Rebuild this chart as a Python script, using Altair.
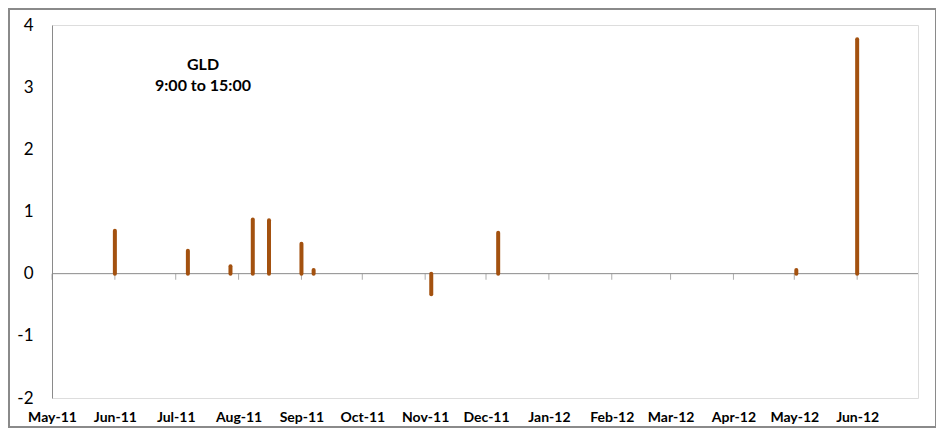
import altair as alt
import pandas as pd

# ---- data ----
dates = ["2011-06-01", "2011-07-07", "2011-07-28", "2011-08-08", "2011-08-16",
         "2011-09-01", "2011-09-07", "2011-11-04", "2011-12-07", "2012-05-02",
         "2012-06-01"]
values = [0.69, 0.37, 0.12, 0.87, 0.86, 0.48, 0.06, -0.33, 0.66, 0.06, 3.77]

month_ticks = ["2011-05-01", "2011-06-01", "2011-07-01", "2011-08-01", "2011-09-01",
               "2011-10-01", "2011-11-01", "2011-12-01", "2012-01-01", "2012-02-01",
               "2012-03-01", "2012-04-01", "2012-05-01", "2012-06-01"]
y_ticks = [-2, -1, 0, 1, 2, 3, 4]
title_lines = ["GLD", "9:00 to 15:00"]

FONT = "Lato"
BAR = "#A3510F"
GRAY = "#8A8A8A"

df = pd.DataFrame({"date": dates, "value": values, "base": [0] * len(values)})
df_months = pd.DataFrame({"date": month_ticks, "value": [0] * len(month_ticks)})
df_zero = pd.DataFrame({"value": [0]})


def dt(s):
    y, m, d = (int(p) for p in s.split("-"))
    return alt.DateTime(year=y, month=m, date=d, utc=True)


x_scale = alt.Scale(type="utc", domain=[dt("2011-05-01"), dt("2012-07-01")])
y_scale = alt.Scale(domain=[-2, 4], nice=False, zero=False)

x_axis = alt.Axis(values=[dt(s) for s in month_ticks],
                  labelExpr="utcFormat(datum.value, '%b-%y')",
                  domain=False, ticks=False, grid=False, labelFont=FONT,
                  labelFontSize=14, labelFontWeight="bold", labelColor="#000000",
                  labelPadding=12, labelFlush=False, labelOverlap=False, title=None)
y_axis = alt.Axis(values=y_ticks, labelExpr="toString(datum.value)",
                  domain=True, domainColor=GRAY, domainWidth=1,
                  ticks=False, grid=False, labelFont=FONT, labelFontSize=17,
                  labelColor="#000000", labelPadding=19, title=None)

X = alt.X("date:T", scale=x_scale, axis=x_axis)
Y = alt.Y("value:Q", scale=y_scale, axis=y_axis)

zero_line = alt.Chart(df_zero).mark_rule(color=GRAY, strokeWidth=1).encode(y=Y)

month_marks = alt.Chart(df_months).mark_tick(
    orient="vertical", size=6, thickness=1, color=GRAY, yOffset=3
).encode(x=X, y=Y)

bars = alt.Chart(df).mark_rule(color=BAR, strokeWidth=4, strokeCap="round").encode(
    x=X, y=alt.Y("base:Q", scale=y_scale, axis=y_axis), y2="value:Q"
)

label = alt.Chart(df_zero).mark_text(
    font=FONT, fontSize=16, fontWeight="bold", color="#000000",
    align="center", baseline="top", lineHeight=21
).encode(x=alt.value(151), y=alt.value(32), text=alt.value(title_lines))

border = alt.Chart(df_zero).mark_rect(fill="transparent", stroke=GRAY, strokeWidth=2).encode(
    x=alt.value(-43), x2=alt.value(884), y=alt.value(-16), y2=alt.value(402)
)

chart = alt.layer(zero_line, month_marks, bars, label, border).properties(
    width=866, height=373,
    autosize=alt.AutoSizeParams(type="none"),
    padding={"left": 44, "top": 17, "right": 18, "bottom": 30},
).configure_view(stroke=None).configure(background="#ffffff")

chart.save("out.html", embed_options={"renderer": "svg", "actions": False})
